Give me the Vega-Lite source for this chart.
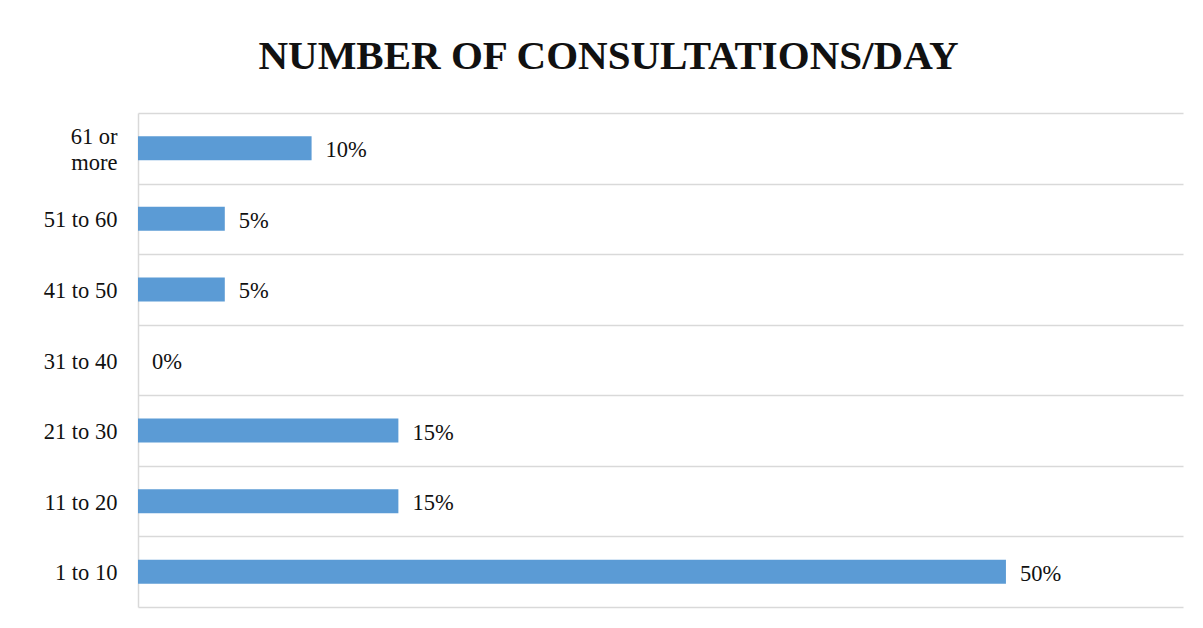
{
  "$schema": "https://vega.github.io/schema/vega-lite/v6.json",
  "width": 1045,
  "height": 494,
  "autosize": {"type": "none"},
  "padding": {"left": 138, "top": 113, "right": 20, "bottom": 21},
  "background": "white",
  "title": {
    "text": "NUMBER OF CONSULTATIONS/DAY",
    "font": "Liberation Serif",
    "fontSize": 41,
    "fontWeight": "bold",
    "color": "#111111",
    "anchor": "middle",
    "baseline": "alphabetic",
    "offset": -8,
    "dx": -52
  },
  "data": {
    "values": [
      {"range": "61 or more", "pct": 10, "label": "10%"},
      {"range": "51 to 60", "pct": 5, "label": "5%"},
      {"range": "41 to 50", "pct": 5, "label": "5%"},
      {"range": "31 to 40", "pct": 0, "label": "0%"},
      {"range": "21 to 30", "pct": 15, "label": "15%"},
      {"range": "11 to 20", "pct": 15, "label": "15%"},
      {"range": "1 to 10", "pct": 50, "label": "50%"}
    ]
  },
  "encoding": {
    "y": {
      "field": "range",
      "type": "nominal",
      "sort": ["61 or more", "51 to 60", "41 to 50", "31 to 40", "21 to 30", "11 to 20", "1 to 10"],
      "scale": {"paddingInner": 0, "paddingOuter": 0},
      "axis": {
        "title": null,
        "ticks": false,
        "labelPadding": 21,
        "labelFont": "Liberation Serif",
        "labelFontSize": 22.5,
        "labelColor": "#111111",
        "labelExpr": "datum.value == '61 or more' ? ['61 or', 'more'] : datum.value",
        "labelLineHeight": 26,
        "labelOffset": {"condition": {"test": "datum.value == '61 or more'", "value": -12}, "value": 1},
        "grid": true,
        "gridColor": "#D9D9D9",
        "gridWidth": 1.5,
        "tickBand": "extent",
        "domainColor": "#D9D9D9",
        "domainWidth": 1.5
      }
    },
    "x": {
      "field": "pct",
      "type": "quantitative",
      "scale": {"domain": [0, 60.2], "nice": false},
      "axis": null
    }
  },
  "layer": [
    {"mark": {"type": "bar", "size": 24, "color": "#5B9BD5"}},
    {
      "mark": {
        "type": "text",
        "align": "left",
        "baseline": "middle",
        "dx": 14,
        "dy": 2,
        "font": "Liberation Serif",
        "fontSize": 22.5,
        "color": "#111111"
      },
      "encoding": {"text": {"field": "label", "type": "nominal"}}
    }
  ],
  "config": {"view": {"stroke": null}}
}
